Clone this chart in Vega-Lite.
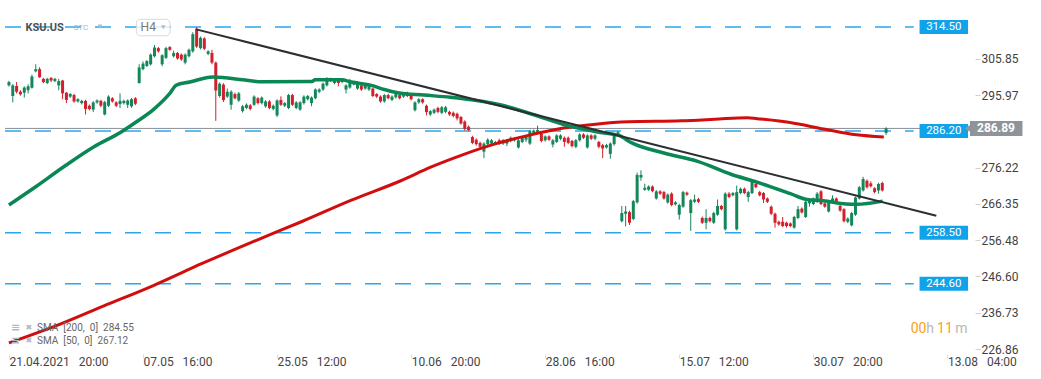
{
"$schema": "https://vega.github.io/schema/vega-lite/v6.json",
"width": 975, "height": 354,
"autosize": {"type": "none"},
"padding": {"left": 0, "top": 0, "right": 66, "bottom": 25},
"background": "white",
"config": {"view": {"stroke": null}, "font": "Roboto"},
"datasets": {
"levels": [{"v": 314.50}, {"v": 286.20}, {"v": 258.50}, {"v": 244.60}],
"trend": [{"i": 48.9, "v": 313.85}, {"i": 242.1, "v": 263.14}],
"sma200": [{"i":0,"v":228.5},{"i":11.9,"v":232.99},{"i":24.8,"v":238.58},{"i":37.7,"v":244.13},{"i":50.6,"v":250.2},{"i":63.6,"v":256.02},{"i":76.5,"v":261.56},{"i":89.4,"v":267.37},{"i":102.3,"v":272.65},{"i":110.1,"v":276.35},{"i":118.6,"v":279.78},{"i":127.4,"v":282.82},{"i":135.9,"v":285.06},{"i":144.4,"v":286.91},{"i":153.2,"v":288.05},{"i":161.8,"v":288.68},{"i":175.5,"v":288.95},{"i":184.2,"v":289.37},{"i":192.8,"v":289.82},{"i":195.3,"v":289.55},{"i":203.9,"v":288.5},{"i":212.7,"v":286.73},{"i":221.2,"v":285.15},{"i":228.4,"v":284.55}],
"sma50": [{"i":0,"v":266.05},{"i":6.7,"v":270.8},{"i":14.5,"v":276.6},{"i":22.2,"v":281.9},{"i":29.2,"v":285.85},{"i":33.4,"v":288.76},{"i":37.7,"v":292.01},{"i":42.0,"v":296.42},{"i":43.7,"v":298.67},{"i":47.2,"v":299.51},{"i":53.2,"v":300.91},{"i":56.6,"v":300.65},{"i":61.0,"v":300.12},{"i":66.1,"v":299.59},{"i":79.1,"v":299.67},{"i":79.9,"v":300.12},{"i":86.8,"v":300.12},{"i":89.4,"v":299.51},{"i":94.6,"v":298.61},{"i":98.0,"v":297.48},{"i":101.5,"v":296.61},{"i":108.3,"v":295.97},{"i":115.2,"v":295.37},{"i":122.1,"v":294.49},{"i":128.2,"v":293.33},{"i":136.8,"v":290.69},{"i":145.4,"v":287.78},{"i":154.0,"v":285.85},{"i":159.2,"v":284.98},{"i":162.6,"v":282.95},{"i":171.2,"v":280.13},{"i":179.8,"v":277.93},{"i":188.5,"v":274.42},{"i":195.3,"v":272.26},{"i":204.0,"v":269.14},{"i":208.3,"v":267.55},{"i":212.6,"v":267.18},{"i":218.6,"v":266.31},{"i":221.2,"v":266.23},{"i":228.1,"v":267.1}],
"candles": [
{"i":0,"o":298.61,"h":299.85,"l":298.27,"c":299.51},
{"i":1,"o":295.71,"h":298.93,"l":293.97,"c":298.61},
{"i":2,"o":298.45,"h":299.51,"l":296.42,"c":296.87},
{"i":3,"o":296.87,"h":297.29,"l":295.81,"c":296.16},
{"i":4,"o":296.61,"h":298.35,"l":295.28,"c":298.01},
{"i":5,"o":297.29,"h":298.88,"l":296.42,"c":298.35},
{"i":6,"o":297.93,"h":301.52,"l":297.74,"c":300.99},
{"i":7,"o":302.42,"h":304.34,"l":302.15,"c":303.02},
{"i":8,"o":303.02,"h":303.55,"l":300.65,"c":300.83},
{"i":9,"o":300.38,"h":300.65,"l":299.19,"c":299.51},
{"i":10,"o":299.25,"h":300.65,"l":298.93,"c":300.38},
{"i":11,"o":300.65,"h":300.83,"l":299.51,"c":299.93},
{"i":12,"o":299.77,"h":300.65,"l":299.46,"c":300.38},
{"i":13,"o":298.61,"h":300.38,"l":297.29,"c":299.77},
{"i":14,"o":299.93,"h":300.12,"l":294.84,"c":296.42},
{"i":15,"o":296.61,"h":296.8,"l":293.78,"c":294.65},
{"i":16,"o":295.55,"h":296.5,"l":295.2,"c":296.24},
{"i":17,"o":295.97,"h":296.3,"l":293.9,"c":294.23},
{"i":18,"o":294.23,"h":295.1,"l":293.9,"c":294.84},
{"i":19,"o":293.78,"h":294.7,"l":293.4,"c":294.39},
{"i":20,"o":294.39,"h":294.7,"l":290.69,"c":292.19},
{"i":21,"o":293.07,"h":293.4,"l":291.8,"c":292.19},
{"i":22,"o":292.01,"h":294.3,"l":291.32,"c":293.97},
{"i":23,"o":293.97,"h":294.8,"l":293.6,"c":294.49},
{"i":24,"o":294.39,"h":294.7,"l":292.7,"c":293.07},
{"i":25,"o":290.69,"h":294.4,"l":290.43,"c":294.05},
{"i":26,"o":293.07,"h":295.9,"l":292.7,"c":295.55},
{"i":27,"o":295.1,"h":295.4,"l":293.9,"c":294.23},
{"i":28,"o":293.97,"h":294.3,"l":292.7,"c":293.07},
{"i":29,"o":293.52,"h":296.42,"l":292.46,"c":294.39},
{"i":30,"o":293.78,"h":294.7,"l":293.4,"c":294.39},
{"i":31,"o":293.33,"h":294.8,"l":292.46,"c":294.49},
{"i":32,"o":292.91,"h":295.2,"l":292.5,"c":294.84},
{"i":33,"o":295.1,"h":295.4,"l":293.2,"c":293.6},
{"i":34,"o":299.25,"h":304.34,"l":299.06,"c":303.47},
{"i":35,"o":303.02,"h":305.14,"l":302.7,"c":304.53},
{"i":36,"o":303.9,"h":305.5,"l":303.6,"c":305.22},
{"i":37,"o":304.34,"h":307.3,"l":304.0,"c":306.98},
{"i":38,"o":306.53,"h":309.62,"l":306.2,"c":308.91},
{"i":39,"o":308.75,"h":309.1,"l":307.5,"c":307.86},
{"i":40,"o":304.34,"h":307.1,"l":303.82,"c":306.8},
{"i":41,"o":306.11,"h":309.1,"l":305.8,"c":308.75},
{"i":42,"o":309.02,"h":309.3,"l":308.0,"c":308.3},
{"i":43,"o":306.53,"h":308.04,"l":306.19,"c":307.43},
{"i":44,"o":307.43,"h":307.7,"l":305.6,"c":305.93},
{"i":45,"o":306.98,"h":307.3,"l":305.3,"c":305.67},
{"i":46,"o":304.79,"h":307.3,"l":304.34,"c":306.98},
{"i":47,"o":306.53,"h":308.6,"l":306.2,"c":308.3},
{"i":48,"o":307.86,"h":313.06,"l":307.5,"c":312.53},
{"i":49,"o":314.04,"h":314.38,"l":308.8,"c":309.18},
{"i":50,"o":308.75,"h":311.9,"l":308.4,"c":311.55},
{"i":51,"o":311.4,"h":311.7,"l":308.2,"c":308.57},
{"i":52,"o":307.17,"h":308.2,"l":306.8,"c":307.86},
{"i":53,"o":307.43,"h":308.3,"l":304.34,"c":304.79},
{"i":54,"o":304.79,"h":305.1,"l":288.95,"c":297.21},
{"i":55,"o":295.71,"h":299.4,"l":295.3,"c":299.06},
{"i":56,"o":298.8,"h":299.2,"l":294.1,"c":294.6},
{"i":57,"o":295.55,"h":297.74,"l":295.2,"c":296.87},
{"i":58,"o":293.33,"h":297.3,"l":292.01,"c":296.87},
{"i":59,"o":296.24,"h":296.6,"l":294.8,"c":295.1},
{"i":60,"o":294.49,"h":296.8,"l":294.1,"c":296.42},
{"i":61,"o":291.59,"h":293.3,"l":291.2,"c":292.91},
{"i":62,"o":292.46,"h":293.7,"l":292.1,"c":293.33},
{"i":63,"o":293.17,"h":293.5,"l":291.8,"c":292.19},
{"i":64,"o":293.33,"h":295.9,"l":293.0,"c":295.55},
{"i":65,"o":295.1,"h":295.4,"l":293.4,"c":293.78},
{"i":66,"o":293.78,"h":295.6,"l":293.4,"c":295.28},
{"i":67,"o":292.91,"h":294.6,"l":292.5,"c":294.23},
{"i":68,"o":294.23,"h":294.6,"l":292.1,"c":292.46},
{"i":69,"o":292.19,"h":293.4,"l":291.8,"c":293.07},
{"i":70,"o":290.43,"h":294.8,"l":290.0,"c":294.49},
{"i":71,"o":294.65,"h":295.63,"l":293.0,"c":293.33},
{"i":72,"o":293.07,"h":294.1,"l":292.7,"c":293.78},
{"i":73,"o":292.46,"h":296.3,"l":292.1,"c":295.97},
{"i":74,"o":295.97,"h":296.3,"l":293.0,"c":293.33},
{"i":75,"o":292.46,"h":294.3,"l":292.1,"c":293.97},
{"i":76,"o":292.01,"h":294.3,"l":291.7,"c":293.97},
{"i":77,"o":293.78,"h":295.9,"l":293.4,"c":295.55},
{"i":78,"o":294.84,"h":296.0,"l":294.5,"c":295.71},
{"i":79,"o":293.78,"h":295.6,"l":292.91,"c":295.28},
{"i":80,"o":295.1,"h":297.8,"l":294.8,"c":297.48},
{"i":81,"o":296.87,"h":297.8,"l":296.5,"c":297.48},
{"i":82,"o":297.48,"h":299.4,"l":297.1,"c":299.06},
{"i":83,"o":298.61,"h":300.83,"l":298.3,"c":300.65},
{"i":84,"o":299.77,"h":300.7,"l":299.5,"c":300.38},
{"i":85,"o":299.25,"h":300.2,"l":298.9,"c":299.93},
{"i":86,"o":299.93,"h":300.2,"l":298.35,"c":299.25},
{"i":87,"o":299.51,"h":300.4,"l":299.2,"c":300.12},
{"i":88,"o":297.48,"h":298.9,"l":296.42,"c":298.61},
{"i":89,"o":298.01,"h":300.38,"l":297.7,"c":299.77},
{"i":90,"o":298.88,"h":299.8,"l":298.6,"c":299.51},
{"i":91,"o":297.74,"h":299.8,"l":297.4,"c":299.51},
{"i":92,"o":298.61,"h":298.9,"l":297.1,"c":297.48},
{"i":93,"o":297.74,"h":298.9,"l":297.4,"c":298.61},
{"i":94,"o":297.48,"h":298.9,"l":297.1,"c":298.61},
{"i":95,"o":297.74,"h":298.0,"l":295.4,"c":295.71},
{"i":96,"o":296.24,"h":296.5,"l":295.2,"c":295.55},
{"i":97,"o":295.55,"h":295.9,"l":293.9,"c":294.23},
{"i":98,"o":294.23,"h":296.3,"l":293.9,"c":295.97},
{"i":99,"o":295.97,"h":296.3,"l":294.8,"c":295.1},
{"i":100,"o":294.65,"h":295.9,"l":294.3,"c":295.55},
{"i":101,"o":295.37,"h":296.5,"l":295.0,"c":296.24},
{"i":102,"o":295.97,"h":296.3,"l":294.8,"c":295.1},
{"i":103,"o":295.55,"h":296.3,"l":295.2,"c":295.97},
{"i":104,"o":296.61,"h":296.9,"l":295.4,"c":295.71},
{"i":105,"o":295.71,"h":296.0,"l":294.5,"c":294.84},
{"i":106,"o":291.85,"h":294.3,"l":291.5,"c":293.97},
{"i":107,"o":293.97,"h":295.1,"l":293.6,"c":294.84},
{"i":108,"o":294.84,"h":295.1,"l":293.6,"c":293.97},
{"i":109,"o":293.07,"h":293.4,"l":290.43,"c":291.32},
{"i":110,"o":290.69,"h":291.9,"l":290.3,"c":291.59},
{"i":111,"o":291.14,"h":292.3,"l":290.8,"c":292.01},
{"i":112,"o":292.46,"h":292.8,"l":291.0,"c":291.4},
{"i":113,"o":291.14,"h":293.0,"l":290.8,"c":292.64},
{"i":114,"o":291.4,"h":293.0,"l":291.0,"c":292.64},
{"i":115,"o":291.4,"h":291.7,"l":290.3,"c":290.69},
{"i":116,"o":291.14,"h":291.5,"l":289.9,"c":290.27},
{"i":117,"o":290.87,"h":291.2,"l":289.1,"c":289.63},
{"i":118,"o":290.0,"h":290.3,"l":287.9,"c":288.23},
{"i":119,"o":288.76,"h":289.1,"l":286.31,"c":286.73},
{"i":120,"o":287.36,"h":287.7,"l":286.1,"c":286.46},
{"i":121,"o":284.54,"h":284.9,"l":282.6,"c":282.95},
{"i":122,"o":283.82,"h":284.2,"l":282.2,"c":282.61},
{"i":123,"o":282.95,"h":283.3,"l":281.5,"c":281.9},
{"i":124,"o":280.57,"h":283.1,"l":278.8,"c":282.77},
{"i":125,"o":282.61,"h":284.2,"l":282.2,"c":283.82},
{"i":126,"o":282.77,"h":284.0,"l":282.4,"c":283.66},
{"i":127,"o":282.77,"h":283.5,"l":282.4,"c":283.21},
{"i":128,"o":283.66,"h":284.09,"l":282.4,"c":282.77},
{"i":129,"o":282.77,"h":284.0,"l":282.4,"c":283.66},
{"i":130,"o":282.77,"h":284.0,"l":282.08,"c":283.66},
{"i":131,"o":283.48,"h":284.7,"l":283.1,"c":284.35},
{"i":132,"o":283.66,"h":284.4,"l":283.3,"c":284.09},
{"i":133,"o":281.71,"h":284.0,"l":281.4,"c":283.66},
{"i":134,"o":283.21,"h":284.7,"l":282.9,"c":284.35},
{"i":135,"o":283.82,"h":284.9,"l":283.21,"c":284.54},
{"i":136,"o":282.77,"h":286.5,"l":282.4,"c":286.12},
{"i":137,"o":285.41,"h":286.6,"l":285.1,"c":286.3},
{"i":138,"o":285.94,"h":287.63,"l":285.6,"c":286.46},
{"i":139,"o":285.41,"h":285.7,"l":283.1,"c":283.48},
{"i":140,"o":283.66,"h":285.0,"l":283.3,"c":284.72},
{"i":141,"o":284.72,"h":285.0,"l":283.5,"c":283.82},
{"i":142,"o":282.5,"h":284.0,"l":281.71,"c":283.66},
{"i":143,"o":283.21,"h":285.3,"l":282.9,"c":284.99},
{"i":144,"o":284.09,"h":285.3,"l":283.7,"c":284.99},
{"i":145,"o":284.35,"h":284.7,"l":281.9,"c":283.21},
{"i":146,"o":284.35,"h":284.7,"l":282.6,"c":282.95},
{"i":147,"o":283.48,"h":283.8,"l":281.7,"c":282.08},
{"i":148,"o":281.9,"h":284.0,"l":281.5,"c":283.66},
{"i":149,"o":283.66,"h":285.6,"l":283.3,"c":285.25},
{"i":150,"o":285.25,"h":285.6,"l":284.0,"c":284.35},
{"i":151,"o":281.71,"h":285.3,"l":281.4,"c":284.99},
{"i":152,"o":284.99,"h":285.3,"l":283.7,"c":284.09},
{"i":153,"o":284.09,"h":285.3,"l":283.7,"c":284.99},
{"i":154,"o":283.21,"h":283.5,"l":281.5,"c":281.9},
{"i":155,"o":282.34,"h":282.7,"l":278.8,"c":281.45},
{"i":156,"o":281.71,"h":282.7,"l":281.4,"c":282.34},
{"i":157,"o":279.96,"h":283.1,"l":278.65,"c":282.77},
{"i":158,"o":282.61,"h":285.6,"l":282.2,"c":285.25},
{"i":159,"o":285.25,"h":286.2,"l":284.9,"c":285.85},
{"i":160,"o":261.64,"h":265.79,"l":261.3,"c":263.86},
{"i":161,"o":263.67,"h":265.79,"l":260.24,"c":264.28},
{"i":162,"o":264.12,"h":264.5,"l":260.6,"c":261.22},
{"i":163,"o":262.27,"h":267.4,"l":261.9,"c":267.1},
{"i":164,"o":266.76,"h":274.85,"l":266.4,"c":274.24},
{"i":165,"o":273.53,"h":275.48,"l":272.65,"c":274.24},
{"i":166,"o":270.2,"h":271.86,"l":269.9,"c":270.72},
{"i":167,"o":270.2,"h":271.4,"l":269.9,"c":271.07},
{"i":168,"o":271.07,"h":271.4,"l":269.5,"c":269.82},
{"i":169,"o":267.82,"h":270.1,"l":267.5,"c":269.75},
{"i":170,"o":269.75,"h":270.1,"l":268.8,"c":269.14},
{"i":171,"o":269.56,"h":269.9,"l":267.5,"c":267.82},
{"i":172,"o":266.76,"h":269.2,"l":266.4,"c":268.88},
{"i":173,"o":269.14,"h":269.5,"l":265.7,"c":266.05},
{"i":174,"o":266.23,"h":267.1,"l":265.9,"c":266.76},
{"i":175,"o":263.41,"h":266.4,"l":262.08,"c":266.05},
{"i":176,"o":265.6,"h":269.9,"l":265.3,"c":269.56},
{"i":177,"o":269.4,"h":269.7,"l":268.5,"c":268.88},
{"i":178,"o":263.86,"h":267.7,"l":259.0,"c":267.36},
{"i":179,"o":266.92,"h":268.87,"l":266.6,"c":267.55},
{"i":180,"o":267.63,"h":268.0,"l":266.6,"c":266.92},
{"i":181,"o":262.53,"h":262.9,"l":260.9,"c":261.22},
{"i":182,"o":261.22,"h":264.91,"l":259.44,"c":262.53},
{"i":183,"o":262.53,"h":262.9,"l":261.3,"c":261.64},
{"i":184,"o":261.22,"h":264.2,"l":260.9,"c":263.86},
{"i":185,"o":263.41,"h":267.55,"l":263.1,"c":265.79},
{"i":186,"o":265.79,"h":266.1,"l":264.6,"c":264.91},
{"i":187,"o":259.44,"h":269.5,"l":259.1,"c":269.14},
{"i":188,"o":269.14,"h":269.56,"l":267.9,"c":268.24},
{"i":189,"o":268.69,"h":269.6,"l":268.4,"c":269.3},
{"i":190,"o":259.44,"h":271.33,"l":259.1,"c":269.56},
{"i":191,"o":269.3,"h":270.8,"l":269.0,"c":270.46},
{"i":192,"o":270.46,"h":270.8,"l":269.0,"c":269.3},
{"i":193,"o":268.24,"h":269.9,"l":266.92,"c":269.56},
{"i":194,"o":269.3,"h":272.8,"l":269.0,"c":272.47},
{"i":195,"o":271.78,"h":272.1,"l":270.6,"c":270.9},
{"i":196,"o":269.56,"h":269.9,"l":268.4,"c":268.69},
{"i":197,"o":269.3,"h":269.6,"l":266.58,"c":267.55},
{"i":198,"o":267.82,"h":268.1,"l":266.6,"c":266.92},
{"i":199,"o":265.6,"h":265.9,"l":263.3,"c":263.67},
{"i":200,"o":263.67,"h":264.0,"l":259.9,"c":261.22},
{"i":201,"o":261.48,"h":261.8,"l":260.4,"c":260.77},
{"i":202,"o":261.48,"h":262.8,"l":260.0,"c":260.32},
{"i":203,"o":261.22,"h":261.5,"l":259.9,"c":260.32},
{"i":204,"o":261.03,"h":261.3,"l":260.0,"c":260.32},
{"i":205,"o":259.9,"h":263.1,"l":259.6,"c":262.8},
{"i":206,"o":262.53,"h":265.79,"l":262.2,"c":264.91},
{"i":207,"o":265.07,"h":265.4,"l":263.7,"c":264.02},
{"i":208,"o":262.8,"h":267.2,"l":262.5,"c":266.92},
{"i":209,"o":266.5,"h":267.7,"l":265.6,"c":267.36},
{"i":210,"o":266.31,"h":268.1,"l":266.0,"c":267.82},
{"i":211,"o":266.92,"h":269.56,"l":266.6,"c":269.14},
{"i":212,"o":269.75,"h":270.1,"l":266.0,"c":266.31},
{"i":213,"o":266.5,"h":266.8,"l":265.3,"c":265.6},
{"i":214,"o":264.28,"h":267.2,"l":264.0,"c":266.92},
{"i":215,"o":266.92,"h":268.69,"l":266.6,"c":267.82},
{"i":216,"o":267.82,"h":268.1,"l":266.6,"c":266.92},
{"i":217,"o":265.79,"h":266.1,"l":264.2,"c":264.54},
{"i":218,"o":264.91,"h":265.2,"l":261.3,"c":261.64},
{"i":219,"o":261.48,"h":262.7,"l":261.1,"c":262.35},
{"i":220,"o":260.5,"h":264.2,"l":260.24,"c":263.86},
{"i":221,"o":263.41,"h":268.4,"l":263.1,"c":268.08},
{"i":222,"o":267.82,"h":271.2,"l":267.5,"c":270.88},
{"i":223,"o":270.01,"h":273.71,"l":269.7,"c":273.1},
{"i":224,"o":272.65,"h":273.0,"l":270.5,"c":270.88},
{"i":225,"o":271.94,"h":272.47,"l":270.8,"c":271.15},
{"i":226,"o":270.62,"h":270.9,"l":269.2,"c":269.56},
{"i":227,"o":270.01,"h":272.1,"l":269.14,"c":271.78},
{"i":228,"o":272.04,"h":272.4,"l":269.7,"c":270.01},
{"i":229,"o":285.67,"h":287.2,"l":285.1,"c":286.89}
]
},
"layer": [
{"data": {"name": "levels"},
 "mark": {"type": "rule", "strokeDash": [16, 14], "strokeWidth": 1.5, "color": "#2ba6ee"},
 "encoding": {
  "x": {"datum": -1.03, "type": "quantitative",
        "scale": {"domain": [-1.03, 250.9], "nice": false, "zero": false},
        "axis": {"values": [0,35,70,105,140,175,210,245],
                 "labelExpr": "['21.04.2021\u00a0\u00a0\u00a020:00','07.05\u00a0\u00a0\u00a016:00','25.05\u00a0\u00a0\u00a012:00','10.06\u00a0\u00a0\u00a020:00','28.06\u00a0\u00a0\u00a016:00','15.07\u00a0\u00a0\u00a012:00','30.07\u00a0\u00a0\u00a020:00','13.08\u00a0\u00a0\u00a004:00'][round(datum.value/35)]",
                 "labelAlign": "left", "labelFlush": false, "labelFont": "Roboto", "labelFontSize": 12,
                 "labelColor": "#454545", "tickSize": 4, "tickColor": "#dddddd", "labelPadding": -2,
                 "domain": false, "grid": false, "title": null, "labelOverlap": false}},
  "x2": {"datum": 236.2},
  "y": {"field": "v", "type": "quantitative",
        "scale": {"domain": [226.86, 320.48], "nice": false, "zero": false},
        "axis": {"orient": "right", "values": [226.86,236.73,246.60,256.48,266.35,276.22,295.97,305.85],
                 "format": ".2f", "labelFlush": true, "labelFlushOffset": 2, "labelFont": "Roboto", "labelFontSize": 12,
                 "labelColor": "#3f3f3f", "tickSize": 5, "tickColor": "#d0d0d0", "labelPadding": 1,
                 "domain": false, "grid": false, "title": null, "labelOverlap": false}}
 }},
{"data": {"values": [{}]},
 "mark": {"type": "rule", "color": "#8a9096", "strokeWidth": 1},
 "encoding": {"x": {"datum": -1.03, "type": "quantitative"}, "x2": {"datum": 250.9}, "y": {"datum": 286.89, "type": "quantitative"}}},
{"data": {"name": "candles"},
 "mark": {"type": "rule", "strokeWidth": 1},
 "encoding": {
  "x": {"field": "i", "type": "quantitative"},
  "y": {"field": "l", "type": "quantitative"},
  "y2": {"field": "h"},
  "color": {"condition": {"test": "datum.c >= datum.o", "value": "#13865a"}, "value": "#d11f2c"}
 }},
{"data": {"name": "candles"},
 "mark": {"type": "bar", "size": 3},
 "encoding": {
  "x": {"field": "i", "type": "quantitative"},
  "y": {"field": "o", "type": "quantitative"},
  "y2": {"field": "c"},
  "color": {"condition": {"test": "datum.c >= datum.o", "value": "#13865a"}, "value": "#d11f2c"}
 }},
{"data": {"name": "sma200"},
 "mark": {"type": "line", "color": "#d20d0d", "strokeWidth": 3, "interpolate": "monotone"},
 "encoding": {"x": {"field": "i", "type": "quantitative"}, "y": {"field": "v", "type": "quantitative"}}},
{"data": {"name": "sma50"},
 "mark": {"type": "line", "color": "#0a8754", "strokeWidth": 3.5, "interpolate": "monotone"},
 "encoding": {"x": {"field": "i", "type": "quantitative"}, "y": {"field": "v", "type": "quantitative"}}},
{"data": {"name": "trend"},
 "mark": {"type": "line", "color": "#2b2f33", "strokeWidth": 2},
 "encoding": {"x": {"field": "i", "type": "quantitative"}, "y": {"field": "v", "type": "quantitative"}}},
{"data": {"name": "levels"},
 "mark": {"type": "bar", "size": 14, "color": "#11a3ea", "orient": "horizontal"},
 "encoding": {"x": {"datum": 237.73, "type": "quantitative"}, "x2": {"datum": 250.4}, "y": {"field": "v", "type": "quantitative"}}},
{"data": {"name": "levels"},
 "mark": {"type": "text", "color": "white", "fontSize": 11.5, "font": "Roboto", "align": "center", "baseline": "middle"},
 "encoding": {"x": {"datum": 244.06, "type": "quantitative"}, "y": {"field": "v", "type": "quantitative"}, "text": {"field": "v", "format": ".2f"}}},
{"data": {"values": [{}]},
 "mark": {"type": "bar", "size": 15, "color": "#8d949a", "orient": "horizontal"},
 "encoding": {"x": {"datum": 250.9, "type": "quantitative"}, "x2": {"datum": 264.6}, "y": {"datum": 286.89, "type": "quantitative"}}},
{"data": {"values": [{}]},
 "mark": {"type": "point", "shape": "triangle-left", "size": 45, "filled": true, "color": "#8d949a", "opacity": 1},
 "encoding": {"x": {"datum": 250.2, "type": "quantitative"}, "y": {"datum": 286.89, "type": "quantitative"}}},
{"data": {"values": [{}]},
 "mark": {"type": "text", "text": "286.89", "color": "white", "fontSize": 12, "fontWeight": "bold", "font": "Roboto", "align": "center", "baseline": "middle"},
 "encoding": {"x": {"datum": 257.7, "type": "quantitative"}, "y": {"datum": 286.89, "type": "quantitative"}}},
{"data": {"values": [{}]},
 "mark": {"type": "rect", "fill": "white", "fillOpacity": 0.8, "stroke": "#d9d9d9", "strokeWidth": 1, "cornerRadius": 4},
 "encoding": {"x": {"datum": 33.26, "type": "quantitative"}, "x2": {"datum": 42.04}, "y": {"datum": 316.59, "type": "quantitative"}, "y2": {"datum": 312.10}}},
{"data": {"values": [{}]},
 "mark": {"type": "text", "text": "KSU.US", "color": "#4b5258", "fontSize": 11, "fontWeight": "bold", "font": "Roboto", "align": "left", "baseline": "middle"},
 "encoding": {"x": {"datum": 4.32, "type": "quantitative"}, "y": {"datum": 314.32, "type": "quantitative"}}},
{"data": {"values": [{}]},
 "mark": {"type": "text", "text": "STC", "color": "#a7b2bc", "fontSize": 8, "font": "Roboto", "align": "left", "baseline": "middle"},
 "encoding": {"x": {"datum": 16.88, "type": "quantitative"}, "y": {"datum": 314.2, "type": "quantitative"}}},
{"data": {"values": [{}]},
 "mark": {"type": "text", "text": "H4", "color": "#777777", "fontSize": 12, "font": "Roboto", "align": "left", "baseline": "middle"},
 "encoding": {"x": {"datum": 34.37, "type": "quantitative"}, "y": {"datum": 314.4, "type": "quantitative"}}},
{"data": {"values": [{}]},
 "mark": {"type": "point", "shape": "triangle-down", "size": 22, "filled": true, "color": "#b5bcc3", "opacity": 1},
 "encoding": {"x": {"datum": 23.78, "type": "quantitative"}, "y": {"datum": 314.6, "type": "quantitative"}}},
{"data": {"values": [{}]},
 "mark": {"type": "point", "shape": "triangle-down", "size": 22, "filled": true, "color": "#b5bcc3", "opacity": 1},
 "encoding": {"x": {"datum": 40.31, "type": "quantitative"}, "y": {"datum": 314.4, "type": "quantitative"}}},
{"data": {"values": [{}]},
 "mark": {"type": "text", "text": "\u2261", "color": "#b4b8bc", "fontSize": 11, "fontWeight": "bold", "font": "DejaVu Sans", "align": "left", "baseline": "middle"},
 "encoding": {"x": {"datum": 0.52, "type": "quantitative"}, "y": {"datum": 232.49, "type": "quantitative"}}},
{"data": {"values": [{}]},
 "mark": {"type": "text", "text": "\u2261", "color": "#b4b8bc", "fontSize": 11, "fontWeight": "bold", "font": "DejaVu Sans", "align": "left", "baseline": "middle"},
 "encoding": {"x": {"datum": 0.52, "type": "quantitative"}, "y": {"datum": 228.97, "type": "quantitative"}}},
{"data": {"values": [{}]},
 "mark": {"type": "text", "text": "\u2716", "color": "#b4b8bc", "fontSize": 8, "font": "DejaVu Sans", "align": "left", "baseline": "middle"},
 "encoding": {"x": {"datum": 4.3, "type": "quantitative"}, "y": {"datum": 232.49, "type": "quantitative"}}},
{"data": {"values": [{}]},
 "mark": {"type": "text", "text": "\u2716", "color": "#b4b8bc", "fontSize": 8, "font": "DejaVu Sans", "align": "left", "baseline": "middle"},
 "encoding": {"x": {"datum": 4.3, "type": "quantitative"}, "y": {"datum": 228.97, "type": "quantitative"}}},
{"data": {"values": [{}]},
 "mark": {"type": "text", "text": "SMA\u00a0\u00a0[200,\u00a0\u00a00]\u00a0\u00a0284.55", "color": "#666666", "fontSize": 10, "font": "Roboto", "align": "left", "baseline": "middle"},
 "encoding": {"x": {"datum": 7.35, "type": "quantitative"}, "y": {"datum": 232.49, "type": "quantitative"}}},
{"data": {"values": [{}]},
 "mark": {"type": "text", "text": "SMA\u00a0\u00a0[50,\u00a0\u00a00]\u00a0\u00a0267.12", "color": "#666666", "fontSize": 10, "font": "Roboto", "align": "left", "baseline": "middle"},
 "encoding": {"x": {"datum": 7.35, "type": "quantitative"}, "y": {"datum": 228.97, "type": "quantitative"}}},
{"data": {"values": [{}]},
 "mark": {"type": "text", "text": "00", "color": "#f7a21b", "fontSize": 14, "font": "Roboto", "align": "left", "baseline": "middle"},
 "encoding": {"x": {"datum": 235.4, "type": "quantitative"}, "y": {"datum": 232.33, "type": "quantitative"}}},
{"data": {"values": [{}]},
 "mark": {"type": "text", "text": "h", "color": "#b8b8b8", "fontSize": 14, "font": "Roboto", "align": "left", "baseline": "middle"},
 "encoding": {"x": {"datum": 239.46, "type": "quantitative"}, "y": {"datum": 232.33, "type": "quantitative"}}},
{"data": {"values": [{}]},
 "mark": {"type": "text", "text": "11", "color": "#f7a21b", "fontSize": 14, "font": "Roboto", "align": "left", "baseline": "middle"},
 "encoding": {"x": {"datum": 242.3, "type": "quantitative"}, "y": {"datum": 232.33, "type": "quantitative"}}},
{"data": {"values": [{}]},
 "mark": {"type": "text", "text": "m", "color": "#b8b8b8", "fontSize": 14, "font": "Roboto", "align": "left", "baseline": "middle"},
 "encoding": {"x": {"datum": 247.03, "type": "quantitative"}, "y": {"datum": 232.33, "type": "quantitative"}}}
]
}
